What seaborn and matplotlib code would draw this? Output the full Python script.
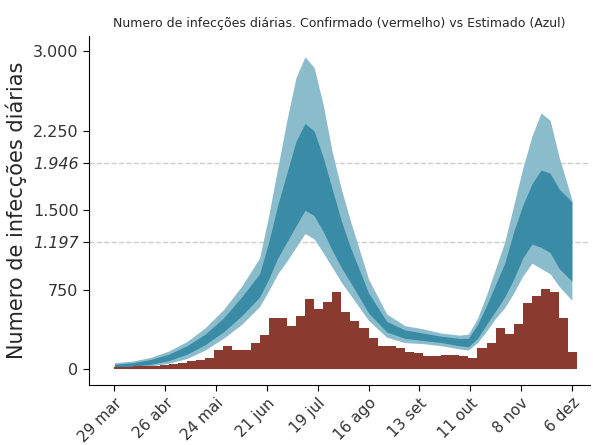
import numpy as np
import pandas as pd
import matplotlib.pyplot as plt
import seaborn as sns

# confirmed daily infections, read every 5 days from 29 mar
bar_days = list(range(0, 255, 5))
bar_vals = [20, 20, 25, 30, 30, 40, 50, 60, 80, 90, 100, 180, 215, 180, 180, 245, 320, 480, 480, 410,
            505, 665, 570, 635, 730, 540, 450, 385, 290, 215, 215, 200, 165, 150, 120, 120, 130, 130,
            120, 100, 200, 245, 385, 335, 430, 620, 690, 760, 730, 480, 165]

# estimated bands
band_days = [0, 10, 20, 30, 40, 50, 60, 70, 80, 85, 90, 95, 100, 105, 110, 115, 120, 125, 130, 140,
             150, 160, 170, 180, 190, 195, 200, 205, 210, 215, 220, 225, 230, 235, 240, 245, 252]
outer_hi = [60, 75, 110, 170, 260, 390, 560, 780, 1050, 1450, 1900, 2350, 2750, 2950, 2850, 2500,
            2050, 1700, 1400, 850, 520, 410, 380, 340, 320, 330, 480, 700, 950, 1200, 1550, 1900,
            2200, 2420, 2350, 2000, 1600]
inner_hi = [45, 60, 90, 140, 220, 330, 480, 680, 900, 1200, 1550, 1850, 2150, 2320, 2250, 2000,
            1700, 1400, 1150, 720, 450, 370, 340, 310, 290, 290, 420, 600, 800, 1000, 1300, 1550,
            1750, 1880, 1850, 1700, 1580]
inner_lo = [15, 25, 45, 80, 140, 230, 350, 500, 680, 850, 1050, 1200, 1350, 1500, 1450, 1300,
            1120, 960, 820, 530, 350, 290, 270, 250, 220, 210, 290, 420, 550, 680, 850, 1050,
            1180, 1150, 1100, 950, 830]
outer_lo = [5, 10, 30, 55, 100, 180, 290, 420, 590, 740, 900, 1020, 1150, 1280, 1230, 1100,
            960, 820, 700, 460, 300, 250, 240, 220, 190, 180, 250, 360, 480, 580, 720, 880,
            1000, 950, 900, 780, 650]

tick_days = [0, 28, 56, 84, 112, 140, 168, 196, 224, 252]
tick_labels = ["29 mar", "26 abr", "24 mai", "21 jun", "19 jul", "16 ago", "13 set",
               "11 out", "8 nov", "6 dez"]
ref_lines = [1946, 1197]

sns.set_style("white")
fig, ax = plt.subplots(figsize=(5.93, 4.45), dpi=100)

bars = pd.DataFrame({"day": bar_days, "val": bar_vals})
ax.bar(bars["day"], bars["val"], width=5, align="edge", color="#8b3a2f", lw=0, zorder=3)

ax.fill_between(band_days, outer_lo, outer_hi, color="#8bbccb", lw=0, zorder=1)
ax.fill_between(band_days, inner_lo, inner_hi, color="#3a8ca6", lw=0, zorder=2)

for v in ref_lines:
    ax.axhline(v, color="#cccccc", ls="--", lw=1, zorder=0)

yt = [0, 750, 1500, 2250, 3000] + ref_lines
ax.set_yticks(yt)
labels = ax.set_yticklabels([f"{v:,}".replace(",", ".") for v in yt], fontsize=11.5, color="#333333")
for lab in labels[5:]:
    lab.set_style("italic")
ax.set_xticks(tick_days)
ax.set_xticklabels(tick_labels, rotation=45, ha="right", rotation_mode="anchor", fontsize=11,
                   color="#333333")
ax.set_xlim(-14, 262)
ax.set_ylim(-150, 3150)
ax.set_ylabel("Numero de infecções diárias", fontsize=15)
ax.set_title("Numero de infecções diárias. Confirmado (vermelho) vs Estimado (Azul)", fontsize=9)
for s in ["top", "right"]:
    ax.spines[s].set_visible(False)
ax.spines["left"].set_color("black")
ax.spines["bottom"].set_color("black")
ax.tick_params(axis="both", length=4, color="black", left=True, bottom=True)

plt.subplots_adjust(left=0.15, right=0.995, top=0.92, bottom=0.135)
plt.savefig("out.png")
